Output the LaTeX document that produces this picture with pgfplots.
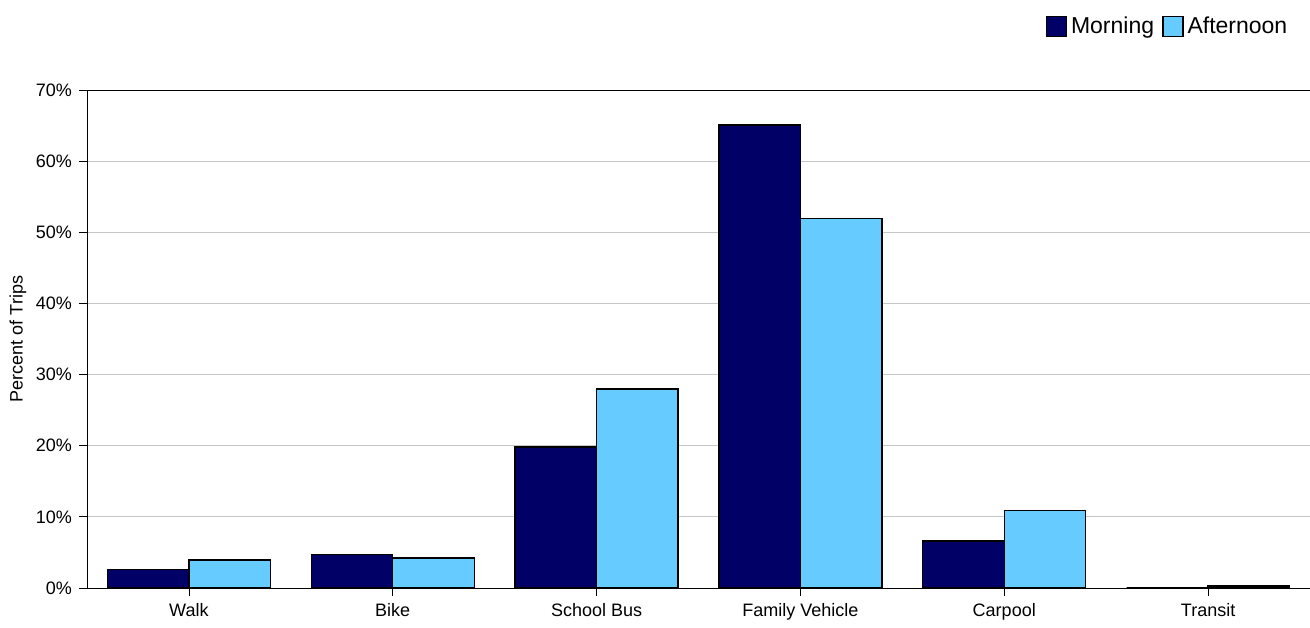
\documentclass[border=0pt]{standalone}
\usepackage{pgfplots}
\pgfplotsset{compat=1.18}
\usepackage{fontspec}
\setmainfont{Liberation Sans}
\definecolor{morning}{HTML}{000066}
\definecolor{afternoon}{HTML}{66CCFF}
\begin{document}
\begin{tikzpicture}
\useasboundingbox (-43.5pt,-19.5pt) rectangle (611.5pt,294pt);
\begin{axis}[
    at={(0,0)}, anchor=south west,
    scale only axis,
    width=611.5pt, height=249pt,
    ybar, bar width=0.4,
    xmin=-0.5, xmax=5.5,
    ymin=0, ymax=70,
    xtick=data,
    xticklabels={Walk,Bike,School Bus,Family Vehicle,Carpool,Transit},
    ytick={0,10,...,60},
    yticklabel={\pgfmathprintnumber{\tick}\%},
    /pgf/number format/assume math mode=true,
    tick label style={font=\fontsize{9}{10}\selectfont},
    ylabel={Percent of Trips},
    ylabel style={font=\fontsize{9}{10}\selectfont,
      at={(axis description cs:-0.0564,0.5)}, anchor=center},
    axis x line*=bottom, axis y line*=left,
    x axis line style={-}, y axis line style={-},
    tick align=outside, tick style={black, thin},
    major tick length=4pt,
    ymajorgrids, grid style={gray!45},
    extra y ticks={70}, extra y tick labels={70\%},
    extra y tick style={grid style={black, thin}},
    legend style={draw=none, font=\fontsize{11.5}{13}\selectfont,
      at={(rel axis cs:0.985,1.128)}, anchor=east,
      legend columns=2, inner sep=0pt,
      /tikz/every odd column/.append style={column sep=0pt},
      /tikz/every even column/.append style={column sep=2pt}},
    legend image code/.code={\draw[#1, draw=black] (0pt,-5pt) rectangle (10pt,5pt);},
    every axis plot/.append style={draw=black, line width=0.7pt},
]
\addplot[fill=morning, bar shift=-0.2] coordinates {(0,2.6) (1,4.75) (2,19.8) (3,65.1) (4,6.6) (5,0)};
\addplot[fill=afternoon, bar shift=0.2] coordinates {(0,3.95) (1,4.2) (2,28.0) (3,51.9) (4,10.9) (5,0.3)};
\legend{Morning,Afternoon}
\end{axis}
\end{tikzpicture}
\end{document}
